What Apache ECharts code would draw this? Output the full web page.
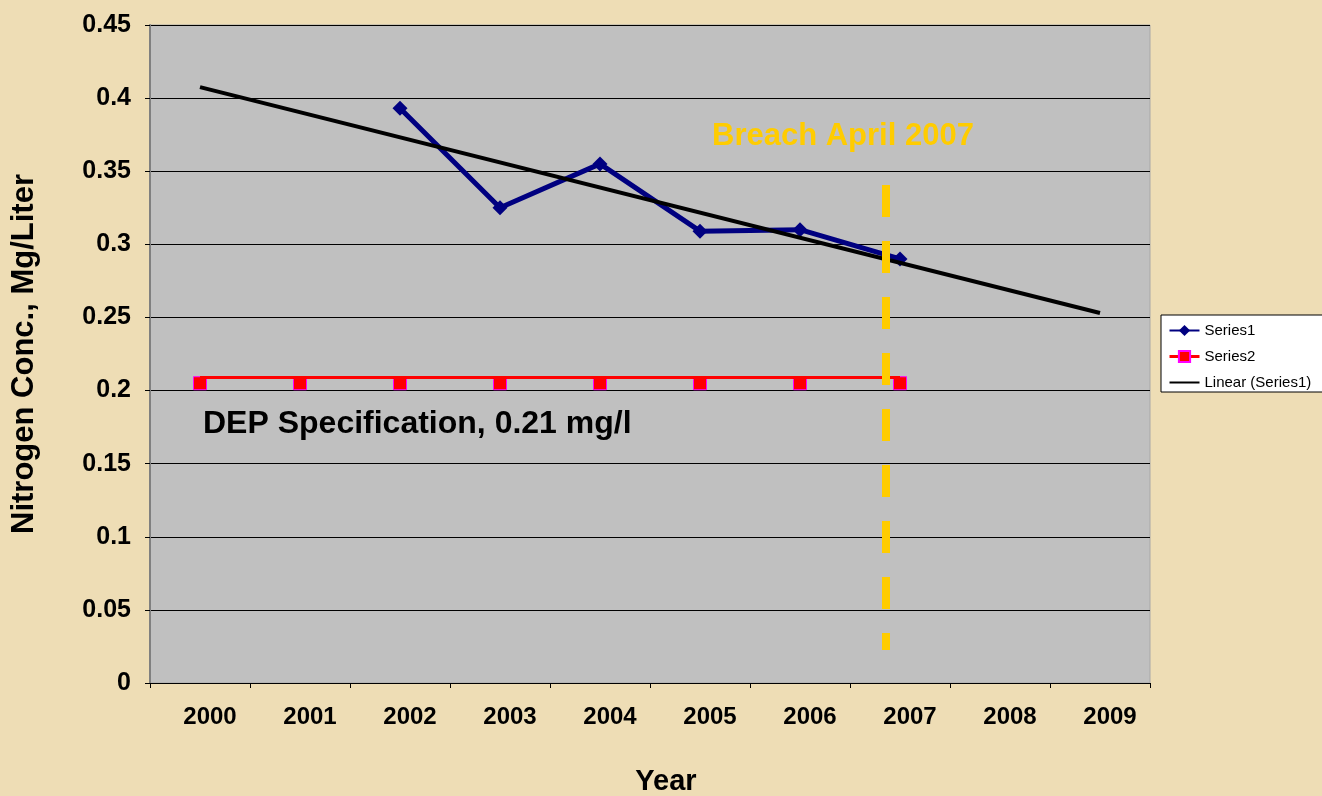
<!DOCTYPE html>
<html>
<head>
<meta charset="utf-8">
<script src="https://cdn.jsdelivr.net/npm/echarts@6/dist/echarts.min.js"></script>
<style>
  body { margin: 0; background: #EEDDB5; }
  #main { width: 1322px; height: 796px; }
</style>
</head>
<body>
<div id="main"></div>
<script>
// data
var years = ['2000', '2001', '2002', '2003', '2004', '2005', '2006', '2007', '2008', '2009'];
var series1 = [null, null, 0.393, 0.325, 0.355, 0.309, 0.310, 0.290, null, null];
var series2 = [0.205, 0.205, 0.205, 0.205, 0.205, 0.205, 0.205, 0.205, null, null];
var trend = [0.4075, null, null, null, null, null, null, null, null, 0.253];
var specLevel = 0.209;           // red DEP line
var breachX = 2006.86;           // yellow dashed marker (fractional year)
var breachSpan = [0.3405, 0.0225];
var yTicks = [0, 0.05, 0.1, 0.15, 0.2, 0.25, 0.3, 0.35, 0.4, 0.45];

var FONT = '"Liberation Sans", Arial, sans-serif';

var myChart = echarts.init(document.getElementById('main'));

var option = {
    backgroundColor: '#EEDDB5',
    animation: false,
    grid: {
        left: 150, top: 25, right: 172, bottom: 113,
        outerBoundsMode: 'none',
        containLabel: false,
        show: true,
        backgroundColor: '#C0C0C0',
        borderColor: '#A8A8A8',
        borderWidth: 1
    },
    legend: {
        orient: 'vertical',
        left: 1161,
        top: 315,
        backgroundColor: '#FFFFFF',
        borderColor: '#000000',
        borderWidth: 1,
        borderRadius: 0,
        padding: [8, 20, 2, 7],
        itemWidth: 30,
        itemHeight: 14,
        itemGap: 11,
        textStyle: { fontFamily: FONT, fontSize: 15, color: '#000' },
        data: [
            { name: 'Series1' },
            { name: 'Series2', lineStyle: { opacity: 1, width: 3, color: '#FF0000' } },
            { name: 'Linear (Series1)', itemStyle: { opacity: 0 } }
        ]
    },
    xAxis: [{
        type: 'category',
        data: years,
        boundaryGap: true,
        name: 'Year',
        nameLocation: 'middle',
        nameGap: 84,
        nameTextStyle: { fontFamily: FONT, fontSize: 29, fontWeight: 'bold', color: '#000', padding: [0, 0, 0, 32] },
        axisLine: { lineStyle: { color: '#000', width: 1 } },
        axisTick: { show: true, length: 5, alignWithLabel: false, lineStyle: { color: '#000' } },
        axisLabel: { fontFamily: FONT, fontSize: 24, fontWeight: 'bold', color: '#000', margin: 22, padding: [0, 0, 0, 20] },
        splitLine: { show: false }
    }, {
        // hidden numeric year axis for the breach marker
        type: 'value',
        min: 1999.5,
        max: 2009.5,
        show: false
    }],
    yAxis: {
        type: 'value',
        min: 0,
        max: 0.45,
        interval: 0.05,
        name: 'Nitrogen Conc., Mg/Liter',
        nameLocation: 'middle',
        nameGap: 110,
        nameTextStyle: { fontFamily: FONT, fontSize: 31, fontWeight: 'bold', color: '#000' },
        axisLine: { show: true, lineStyle: { color: '#808080', width: 2 } },
        axisTick: { show: true, length: 5, lineStyle: { color: '#000' } },
        axisLabel: {
            fontFamily: FONT, fontSize: 25, fontWeight: 'bold', color: '#000', margin: 19,
            formatter: function (v) {
                var i = yTicks.findIndex(function (t) { return Math.abs(t - v) < 1e-9; });
                return i < 0 ? '' : String(+yTicks[i].toFixed(2));
            }
        },
        splitLine: { show: true, lineStyle: { color: '#000', width: 1 } }
    },
    graphic: [{
        type: 'text',
        left: 712, top: 121,
        style: { text: 'Breach April 2007', fill: '#FFCC00', font: 'bold 31px ' + FONT }
    }, {
        type: 'text',
        left: 203, top: 408,
        style: { text: 'DEP Specification, 0.21 mg/l', fill: '#000', font: 'bold 32px ' + FONT }
    }],
    series: [{
        name: 'Series1',
        type: 'line',
        data: series1,
        symbol: 'diamond',
        symbolSize: 15,
        color: '#000080',
        lineStyle: { color: '#000080', width: 5 },
        itemStyle: { color: '#000080' },
        z: 4
    }, {
        name: 'Series2',
        type: 'line',
        data: series2,
        symbol: 'rect',
        symbolSize: 13,
        lineStyle: { opacity: 0, width: 3, color: '#FF0000' },
        itemStyle: { color: '#FF0000', borderColor: '#FF00FF', borderWidth: 1 },
        z: 3,
        markLine: {
            silent: true,
            symbol: 'none',
            label: { show: false },
            lineStyle: { color: '#FF0000', width: 3, type: 'solid' },
            data: [[{ coord: ['2000', specLevel] }, { coord: ['2007', specLevel] }]]
        }
    }, {
        name: 'Linear (Series1)',
        type: 'line',
        data: trend,
        connectNulls: true,
        symbol: 'none',
        color: '#000',
        lineStyle: { color: '#000', width: 4 },
        z: 5
    }, {
        name: 'breach',
        type: 'line',
        xAxisIndex: 1,
        data: [[breachX, breachSpan[0]], [breachX, breachSpan[1]]],
        symbol: 'none',
        lineStyle: { color: '#FFCC00', width: 8, type: [32, 24], cap: 'butt' },
        z: 10
    }]
};

myChart.setOption(option);
</script>
</body>
</html>
